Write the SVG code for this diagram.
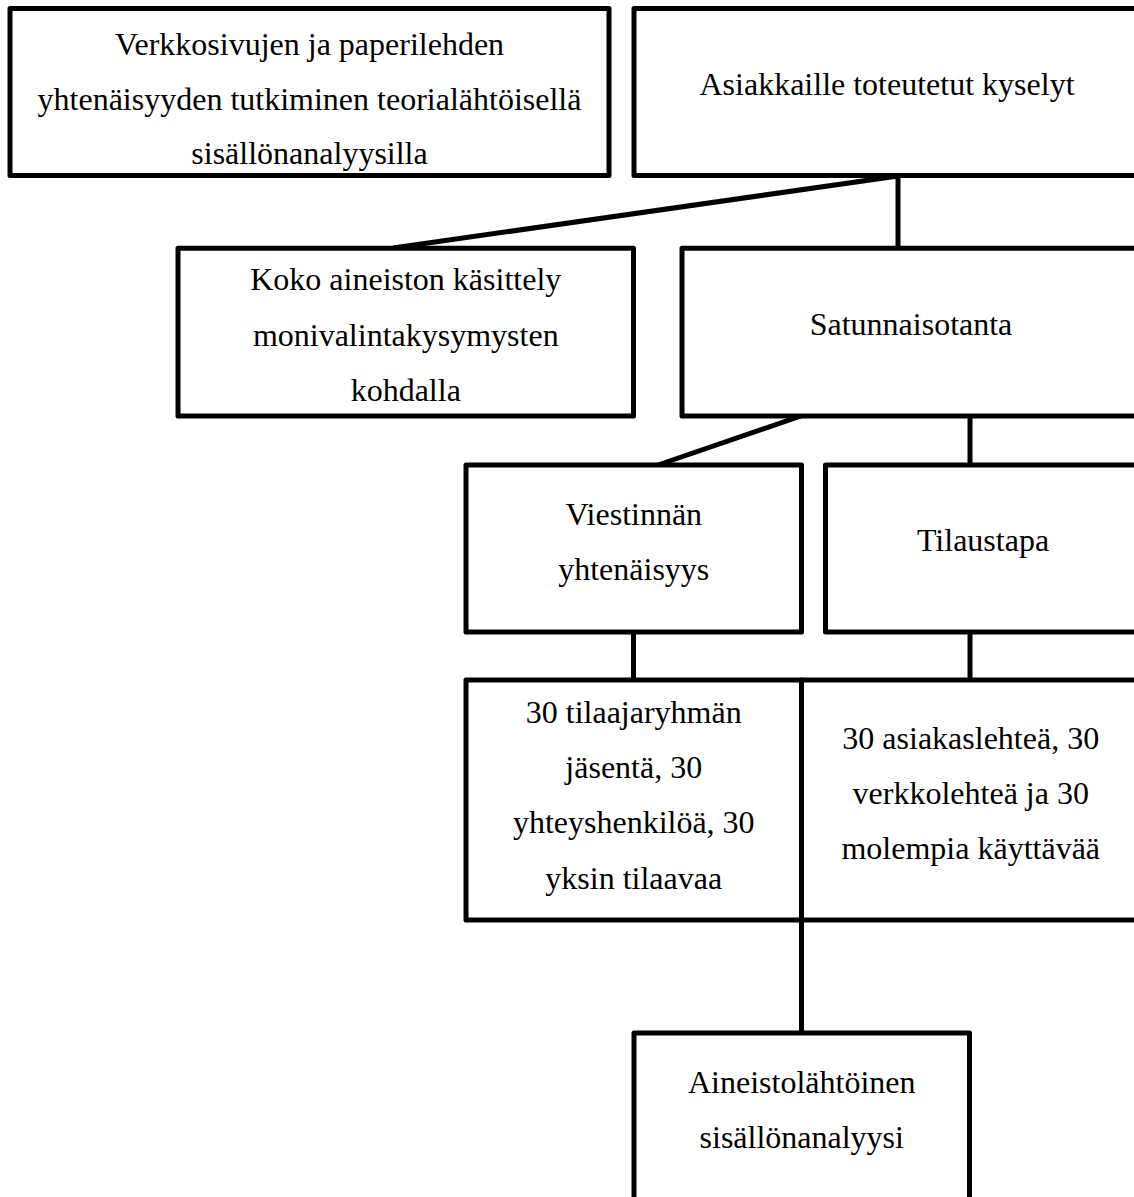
<svg xmlns="http://www.w3.org/2000/svg" width="1134" height="1197" viewBox="0 0 1134 1197">
<style>
.box{fill:#fff;stroke:#000;stroke-width:5;stroke-linejoin:round}
.t{font-family:"Liberation Serif","Times New Roman",serif;font-size:32px;fill:#000;text-anchor:middle}
.c{stroke:#000;stroke-width:5;fill:none;stroke-linecap:butt}
</style>
<rect width="1134" height="1197" fill="#fff"/>
<g id="connectors">
<line class="c" x1="898" y1="176" x2="393" y2="248"/>
<line class="c" x1="898" y1="176" x2="898" y2="248"/>
<line class="c" x1="801" y1="416" x2="658" y2="465"/>
<line class="c" x1="970" y1="416" x2="970" y2="465"/>
<line class="c" x1="633.5" y1="632" x2="633.5" y2="680"/>
<line class="c" x1="970" y1="632" x2="970" y2="680"/>
<line class="c" x1="801.5" y1="920" x2="801.5" y2="1033"/>
</g>
<g id="n1">
<rect class="box" x="10" y="8.5" width="599" height="167"/>
<text class="t" x="309.5" y="55">Verkkosivujen ja paperilehden</text>
<text class="t" x="309.5" y="109.5">yhtenäisyyden tutkiminen teorialähtöisellä</text>
<text class="t" x="309.5" y="164">sisällönanalyysilla</text>
</g>
<g id="n2">
<rect class="box" x="634" y="8.5" width="506" height="167"/>
<text class="t" x="887" y="95">Asiakkaille toteutetut kyselyt</text>
</g>
<g id="n3">
<rect class="box" x="178" y="248.3" width="455.5" height="167.7"/>
<text class="t" x="405.75" y="290">Koko aineiston käsittely</text>
<text class="t" x="405.75" y="345.5">monivalintakysymysten</text>
<text class="t" x="405.75" y="400.5">kohdalla</text>
</g>
<g id="n4">
<rect class="box" x="682" y="248.3" width="458" height="167.7"/>
<text class="t" x="911" y="335">Satunnaisotanta</text>
</g>
<g id="n5">
<rect class="box" x="466" y="465" width="335.5" height="167"/>
<text class="t" x="633.75" y="525">Viestinnän</text>
<text class="t" x="633.75" y="579.5">yhtenäisyys</text>
</g>
<g id="n6">
<rect class="box" x="825.5" y="465" width="314.5" height="167"/>
<text class="t" x="983" y="550.5">Tilaustapa</text>
</g>
<g id="n7">
<rect class="box" x="466" y="680" width="335.5" height="240"/>
<text class="t" x="633.75" y="723">30 tilaajaryhmän</text>
<text class="t" x="633.75" y="778">jäsentä, 30</text>
<text class="t" x="633.75" y="833">yhteyshenkilöä, 30</text>
<text class="t" x="633.75" y="888.5">yksin tilaavaa</text>
</g>
<g id="n8">
<rect class="box" x="801.5" y="680" width="338.5" height="240"/>
<text class="t" x="970.75" y="749">30 asiakaslehteä, 30</text>
<text class="t" x="970.75" y="803.5">verkkolehteä ja 30</text>
<text class="t" x="970.75" y="858.5">molempia käyttävää</text>
</g>
<g id="n9">
<rect class="box" x="634" y="1033" width="335.5" height="180"/>
<text class="t" x="801.75" y="1092.5">Aineistolähtöinen</text>
<text class="t" x="801.75" y="1147.5">sisällönanalyysi</text>
</g>
</svg>
